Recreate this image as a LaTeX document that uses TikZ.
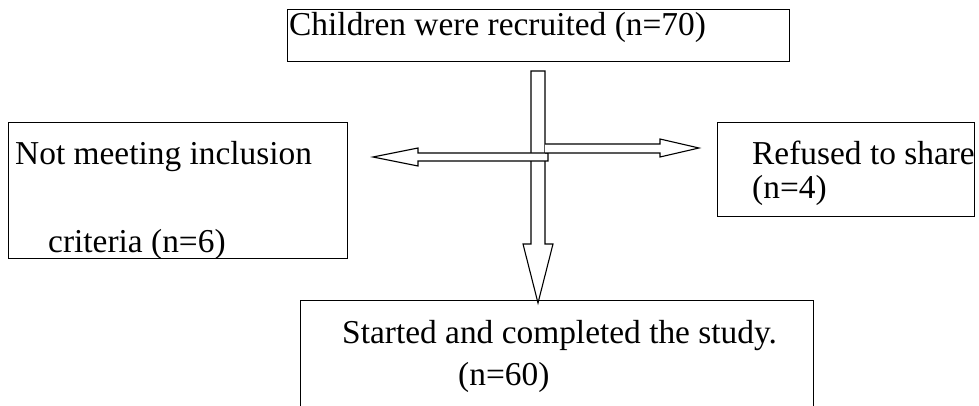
\documentclass[tikz,border=0pt]{standalone}
\usepackage{fontspec}
\setmainfont{Liberation Serif}
\tikzset{
  box/.style={draw, line width=1.2pt, inner sep=0pt, anchor=north west},
  txt/.style={anchor=base west, inner sep=0pt, font=\fontsize{33.4}{40}\selectfont},
  blockarrow/.style={draw, fill=white, line width=1.1pt, line join=miter}
}
\begin{document}
\begin{tikzpicture}[x=1pt, y=-1pt]
\useasboundingbox (0,0) rectangle (979,406);
\clip (0,0) rectangle (979,406);

% boxes
\node[box, minimum width=502pt, minimum height=52pt] (recruited) at (287,9) {};
\node[box, minimum width=339pt, minimum height=136pt] (excluded) at (8,122) {};
\node[box, minimum width=257pt, minimum height=94pt] (refused) at (717,122) {};
\node[box, minimum width=513pt, minimum height=130pt] (completed) at (300,300) {};

% texts
\node[txt] (t1) at (289,36) {Children were recruited (n=70)};
\node[txt] (t2) at (15,165) {Not meeting inclusion};
\node[txt] (t3) at (48,252) {criteria (n=6)};
\node[txt] (t4) at (752,165) {Refused to share};
\node[txt] (t5) at (752,198) {(n=4)};
\node[txt] (t6) at (342,343) {Started and completed the study.};
\node[txt] (t7) at (458,385) {(n=60)};

% block arrows
\draw[blockarrow] (531,71) -- (545,71) -- (545,244) -- (553,244) -- (538,303)
  -- (523,244) -- (531,244) -- cycle;
\draw[blockarrow] (548,153) -- (548,161) -- (418,161) -- (418,166) -- (373,157)
  -- (418,148) -- (418,153) -- cycle;
\draw[blockarrow] (545,144) -- (660,144) -- (660,139) -- (699,148) -- (660,157)
  -- (660,153) -- (545,153);

\end{tikzpicture}
\end{document}
